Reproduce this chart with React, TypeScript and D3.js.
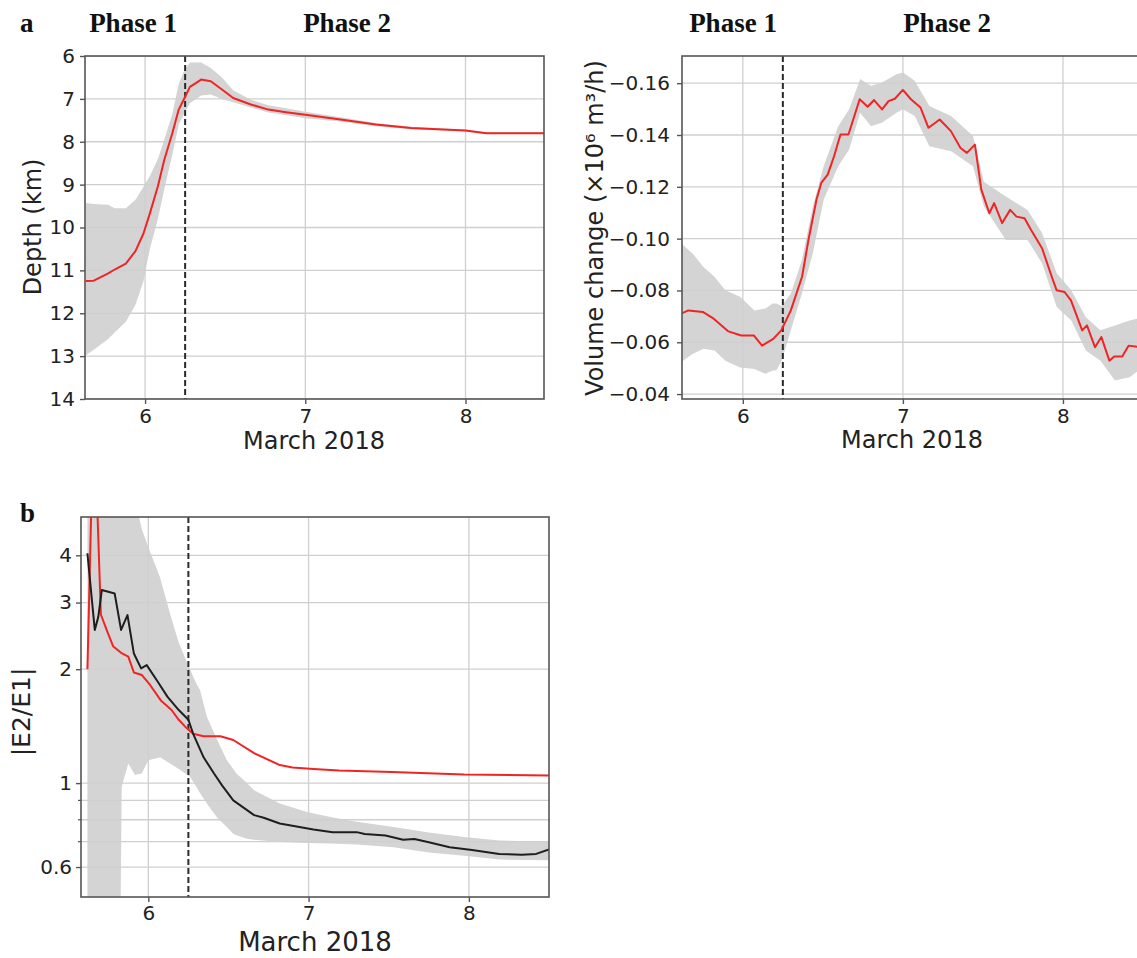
import React, { useEffect, useRef } from "react";
import * as d3 from "d3";

const W = 1137, H = 958;
const PHASE_SPLIT = 6.25;
const DAY_TICKS = [6, 7, 8];

// a (left): source depth, km
const depthX = [5.63, 5.68, 5.77, 5.81, 5.88, 5.94, 5.99, 6.03, 6.08, 6.12, 6.17, 6.21, 6.25, 6.28, 6.35, 6.41, 6.48, 6.55, 6.66, 6.77, 6.88, 7.0, 7.22, 7.44, 7.66, 8.0, 8.13, 8.5];
const depthMid = [11.25, 11.24, 11.07, 10.98, 10.84, 10.55, 10.14, 9.67, 9.04, 8.42, 7.8, 7.25, 6.95, 6.72, 6.55, 6.59, 6.78, 6.98, 7.13, 7.25, 7.31, 7.37, 7.48, 7.6, 7.68, 7.74, 7.8, 7.8];
const depthShallow = [9.43, 9.45, 9.47, 9.55, 9.55, 9.35, 9.05, 8.8, 8.4, 7.95, 7.35, 6.65, 6.3, 6.15, 6.15, 6.28, 6.5, 6.8, 7.02, 7.15, 7.22, 7.3, 7.43, 7.56, 7.65, 7.72, 7.78, 7.78];
const depthDeep = [12.98, 12.85, 12.6, 12.45, 12.2, 11.8, 11.25, 10.5, 9.8, 9.1, 8.3, 7.6, 7.3, 7.1, 6.92, 6.9, 7.0, 7.08, 7.2, 7.32, 7.38, 7.45, 7.53, 7.64, 7.71, 7.76, 7.82, 7.82];
const depthTicks = [6, 7, 8, 9, 10, 11, 12, 13, 14];

// a (right): volume change rate
const volX = [5.613, 5.66, 5.75, 5.82, 5.91, 5.99, 6.07, 6.12, 6.19, 6.24, 6.3, 6.37, 6.41, 6.46, 6.49, 6.53, 6.57, 6.61, 6.66, 6.73, 6.78, 6.82, 6.87, 6.91, 6.95, 7.0, 7.05, 7.11, 7.16, 7.23, 7.3, 7.36, 7.4, 7.45, 7.49, 7.54, 7.57, 7.62, 7.67, 7.71, 7.76, 7.8, 7.87, 7.93, 7.96, 8.01, 8.05, 8.12, 8.15, 8.2, 8.24, 8.29, 8.32, 8.37, 8.41, 8.48, 8.5];
const volMid = [-0.071, -0.0723, -0.0717, -0.069, -0.0642, -0.0626, -0.0626, -0.0587, -0.0613, -0.0646, -0.0723, -0.0853, -0.0995, -0.115, -0.1215, -0.1247, -0.1318, -0.1402, -0.1402, -0.1538, -0.1509, -0.1535, -0.1499, -0.1531, -0.154, -0.1574, -0.1538, -0.1506, -0.1428, -0.146, -0.1415, -0.135, -0.1331, -0.1363, -0.1189, -0.1098, -0.1137, -0.106, -0.1111, -0.1085, -0.1079, -0.1034, -0.0962, -0.0853, -0.0801, -0.0794, -0.0762, -0.0646, -0.0665, -0.0581, -0.062, -0.0529, -0.0545, -0.0545, -0.0587, -0.0581, -0.058];
const volBandX = [5.613, 5.686, 5.754, 5.823, 5.891, 5.982, 6.073, 6.141, 6.187, 6.209, 6.243, 6.3, 6.369, 6.437, 6.505, 6.596, 6.664, 6.733, 6.801, 6.869, 6.96, 7.0, 7.074, 7.165, 7.301, 7.438, 7.506, 7.643, 7.779, 7.87, 7.961, 8.052, 8.143, 8.234, 8.325, 8.416, 8.5];
const volBandHi = [-0.0982, -0.0943, -0.0891, -0.0853, -0.0801, -0.0776, -0.0723, -0.073, -0.075, -0.075, -0.074, -0.0788, -0.0917, -0.1124, -0.1279, -0.1434, -0.1499, -0.1616, -0.159, -0.1603, -0.1635, -0.1641, -0.1609, -0.1512, -0.1473, -0.1396, -0.122, -0.1163, -0.1111, -0.1021, -0.0866, -0.0801, -0.0697, -0.0646, -0.0665, -0.0684, -0.0697];
const volBandLo = [-0.0523, -0.0555, -0.0575, -0.0568, -0.0529, -0.0503, -0.0497, -0.0478, -0.0491, -0.0491, -0.0529, -0.0646, -0.0788, -0.0943, -0.115, -0.1279, -0.1344, -0.1486, -0.1434, -0.1447, -0.1486, -0.1499, -0.1473, -0.1357, -0.1337, -0.1279, -0.1124, -0.0995, -0.0995, -0.0904, -0.0736, -0.0684, -0.0568, -0.0529, -0.0452, -0.0465, -0.0503];
const volTicks = [-0.16, -0.14, -0.12, -0.1, -0.08, -0.06, -0.04];

// b: |E2/E1|
const ratioRedX = [5.62, 5.66, 5.704, 5.74, 5.78, 5.83, 5.875, 5.91, 5.96, 6.01, 6.08, 6.145, 6.19, 6.23, 6.28, 6.345, 6.45, 6.53, 6.66, 6.82, 6.9, 7.03, 7.19, 7.52, 7.97, 8.5];
const ratioRed = [2.0, 10, 2.79, 2.54, 2.3, 2.21, 2.16, 1.96, 1.93, 1.82, 1.65, 1.56, 1.47, 1.41, 1.35, 1.33, 1.33, 1.3, 1.2, 1.116, 1.1, 1.09, 1.08, 1.07, 1.054, 1.048];
const ratioBlackX = [5.62, 5.666, 5.688, 5.71, 5.79, 5.83, 5.87, 5.91, 5.955, 5.99, 6.06, 6.12, 6.19, 6.25, 6.28, 6.345, 6.41, 6.46, 6.53, 6.66, 6.72, 6.82, 7.03, 7.15, 7.3, 7.35, 7.48, 7.59, 7.66, 7.75, 7.88, 8.02, 8.19, 8.33, 8.42, 8.5];
const ratioBlack = [4.05, 2.54, 2.75, 3.24, 3.17, 2.54, 2.78, 2.2, 2.01, 2.05, 1.85, 1.69, 1.56, 1.47, 1.35, 1.17, 1.06, 0.986, 0.9, 0.823, 0.81, 0.782, 0.754, 0.742, 0.742, 0.734, 0.727, 0.708, 0.712, 0.698, 0.677, 0.666, 0.65, 0.647, 0.65, 0.668];
const ratioBandX = [5.62, 5.823, 5.834, 5.875, 5.917, 5.935, 5.959, 6.0, 6.073, 6.136, 6.19, 6.26, 6.3, 6.323, 6.365, 6.43, 6.49, 6.53, 6.55, 6.615, 6.66, 6.82, 6.99, 7.136, 7.3, 7.53, 7.75, 7.97, 8.19, 8.5];
const ratioBandHi = [8, 8, 8, 8, 8, 5.2, 4.7, 4.2, 3.5, 2.8, 2.35, 2.0, 1.83, 1.76, 1.5, 1.3, 1.15, 1.09, 1.06, 1.0, 0.958, 0.883, 0.839, 0.814, 0.79, 0.765, 0.74, 0.72, 0.705, 0.7];
const ratioBandLo = [0.3, 0.3, 0.978, 1.127, 1.05, 1.055, 1.06, 1.15, 1.17, 1.127, 1.09, 1.04, 0.978, 0.94, 0.883, 0.81, 0.765, 0.735, 0.728, 0.713, 0.708, 0.699, 0.695, 0.692, 0.688, 0.677, 0.656, 0.643, 0.628, 0.625];
const ratioTicks = [0.6, 1, 2, 3, 4];
const ratioMinor = [0.7, 0.8, 0.9];

const SANS = "DejaVu Sans, sans-serif";
const SERIF = "Liberation Serif, Times New Roman, serif";
const INK = "#222";
const GRID = "#cfcfcf";
const BAND = "#d4d4d4";
const RED = "#f02424";

export default function App() {
  const ref = useRef<SVGSVGElement>(null);

  useEffect(() => {
    const node = ref.current;
    if (!node) return;
    const svg = d3.select(node);
    svg.selectAll("*").remove();
    const defs = svg.append("defs");

    function panel(p: any) {
      const { id, box, x, y } = p;
      defs.append("clipPath").attr("id", id).append("rect")
        .attr("x", box.l).attr("y", box.t).attr("width", box.r - box.l).attr("height", box.b - box.t);
      const g = svg.append("g");
      const plot = g.append("g").attr("clip-path", `url(#${id})`);

      p.bands.forEach((b: any) => {
        const area = d3.area<number>()
          .x((d) => x(d))
          .y0((_, i) => y(b.lo[i]))
          .y1((_, i) => y(b.hi[i]));
        plot.append("path").attr("d", area(b.xs)).attr("fill", BAND);
      });

      DAY_TICKS.forEach((t) => {
        plot.append("line").attr("x1", x(t)).attr("x2", x(t)).attr("y1", box.t).attr("y2", box.b)
          .attr("stroke", GRID).attr("stroke-width", 1.3);
      });
      p.yGrid.forEach((t: number) => {
        plot.append("line").attr("x1", box.l).attr("x2", box.r).attr("y1", y(t)).attr("y2", y(t))
          .attr("stroke", GRID).attr("stroke-width", 1.3);
      });

      plot.append("line").attr("x1", x(PHASE_SPLIT)).attr("x2", x(PHASE_SPLIT))
        .attr("y1", box.t).attr("y2", box.b)
        .attr("stroke", "#2a2a2a").attr("stroke-width", 2).attr("stroke-dasharray", "6,3");

      p.lines.forEach((ln: any) => {
        const line = d3.line<number>().x((d) => x(d)).y((_, i) => y(ln.ys[i]));
        plot.append("path").attr("d", line(ln.xs)).attr("fill", "none")
          .attr("stroke", ln.color).attr("stroke-width", 2).attr("stroke-linejoin", "round");
      });

      g.append("rect").attr("x", box.l).attr("y", box.t)
        .attr("width", box.r - box.l).attr("height", box.b - box.t)
        .attr("fill", "none").attr("stroke", "#555").attr("stroke-width", 1.6);

      const xAxis = g.append("g").attr("transform", `translate(0,${box.b})`)
        .call(d3.axisBottom(x).tickValues(DAY_TICKS).tickSize(5).tickPadding(p.xPad).tickFormat(d3.format("d")));
      const yAxis = g.append("g").attr("transform", `translate(${box.l},0)`)
        .call(d3.axisLeft(y).tickValues(p.yTicks).tickSize(5).tickPadding(p.yPad).tickFormat(p.yFmt));
      [xAxis, yAxis].forEach((a) => {
        a.select(".domain").remove();
        a.selectAll("line").attr("stroke", "#555").attr("stroke-width", 1.4);
        a.selectAll("text").attr("font-family", SANS).attr("font-size", 20).attr("fill", INK);
      });
      if (p.yMinor) {
        p.yMinor.forEach((t: number) => {
          g.append("line").attr("x1", box.l - 3).attr("x2", box.l).attr("y1", y(t)).attr("y2", y(t))
            .attr("stroke", "#555").attr("stroke-width", 1.2);
        });
      }

      g.append("text").attr("x", p.xLabel.x).attr("y", p.xLabel.y).attr("text-anchor", "middle")
        .attr("font-family", SANS).attr("font-size", p.xLabel.size).attr("fill", INK).text("March 2018");
      g.append("text").attr("transform", `translate(${p.yLabel.x},${p.yLabel.y}) rotate(-90)`)
        .attr("text-anchor", "middle").attr("font-family", SANS).attr("font-size", p.yLabel.size)
        .attr("fill", INK).text(p.yLabel.text);
    }

    // panel a, left
    const boxA1 = { l: 85, r: 544, t: 56, b: 399 };
    panel({
      id: "clipA1", box: boxA1,
      x: d3.scaleLinear().domain([5.625, 8.49]).range([boxA1.l, boxA1.r]),
      y: d3.scaleLinear().domain([6, 14]).range([boxA1.t, boxA1.b]),
      bands: [{ xs: depthX, lo: depthDeep, hi: depthShallow }],
      lines: [{ xs: depthX, ys: depthMid, color: RED }],
      yGrid: depthTicks, yTicks: depthTicks, yFmt: d3.format("d"), xPad: 5, yPad: 5,
      xLabel: { x: 314, y: 449, size: 24 },
      yLabel: { x: 41, y: 227, size: 24, text: "Depth (km)" },
    });

    // panel a, right
    const boxA2 = { l: 682, r: 1143, t: 56, b: 399 };
    panel({
      id: "clipA2", box: boxA2,
      x: d3.scaleLinear().domain([5.62, 8.5]).range([boxA2.l, boxA2.r]),
      y: d3.scaleLinear().domain([-0.0381, -0.1705]).range([boxA2.b, boxA2.t]),
      bands: [{ xs: volBandX, lo: volBandLo, hi: volBandHi }],
      lines: [{ xs: volX, ys: volMid, color: RED }],
      yGrid: volTicks, yTicks: volTicks, yFmt: d3.format(".2f"), xPad: 5, yPad: 7,
      xLabel: { x: 912, y: 448, size: 24 },
      yLabel: { x: 603, y: 228, size: 24, text: "Volume change (×10⁶ m³/h)" },
    });

    // panel b
    const boxB = { l: 81, r: 549, t: 517, b: 897 };
    panel({
      id: "clipB", box: boxB,
      x: d3.scaleLinear().domain([5.58, 8.5]).range([boxB.l, boxB.r]),
      y: d3.scaleLog().domain([0.5, 5.05]).range([boxB.b, boxB.t]),
      bands: [{ xs: ratioBandX, lo: ratioBandLo, hi: ratioBandHi }],
      lines: [
        { xs: ratioRedX, ys: ratioRed, color: RED },
        { xs: ratioBlackX, ys: ratioBlack, color: "#1e1e1e" },
      ],
      yGrid: [...ratioTicks, ...ratioMinor], yTicks: ratioTicks, yMinor: ratioMinor,
      yFmt: (d: number) => String(d), xPad: 4, yPad: 4,
      xLabel: { x: 315, y: 951, size: 26 },
      yLabel: { x: 30, y: 712, size: 25, text: "|E2/E1|" },
    });

    // panel letters and phase headers
    const heads = [
      { t: "a", x: 20, y: 32, anchor: "start" },
      { t: "b", x: 20, y: 522, anchor: "start" },
      { t: "Phase 1", x: 133, y: 32, anchor: "middle" },
      { t: "Phase 2", x: 347, y: 32, anchor: "middle" },
      { t: "Phase 1", x: 733, y: 32, anchor: "middle" },
      { t: "Phase 2", x: 947, y: 32, anchor: "middle" },
    ];
    svg.selectAll("text.head").data(heads).enter().append("text")
      .attr("class", "head").attr("x", (d) => d.x).attr("y", (d) => d.y)
      .attr("text-anchor", (d) => d.anchor).attr("font-family", SERIF).attr("font-weight", "bold")
      .attr("font-size", 27).attr("fill", "#111").text((d) => d.t);
  }, []);

  return (
    <svg ref={ref} width={W} height={H}
      style={{ position: "absolute", left: 0, top: 0, background: "#fff" }} />
  );
}
